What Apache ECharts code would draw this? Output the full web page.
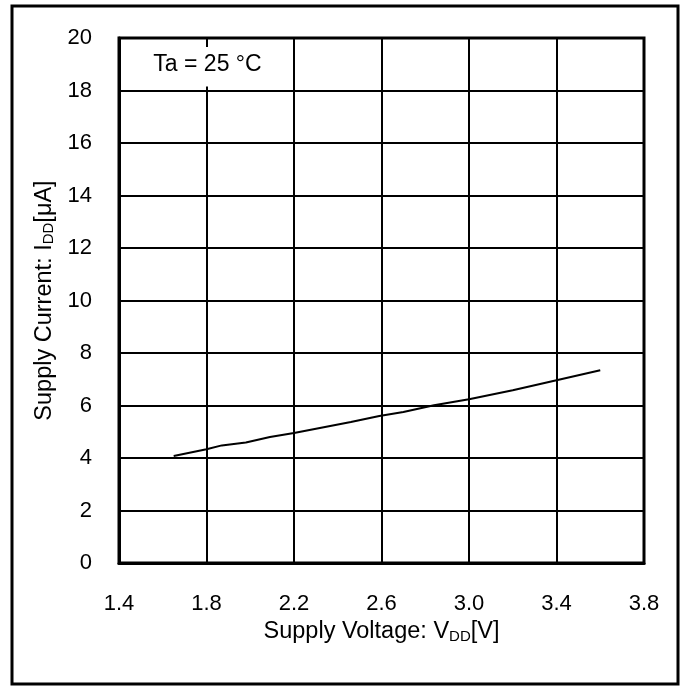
<!DOCTYPE html>
<html>
<head>
<meta charset="utf-8">
<script src="https://cdn.jsdelivr.net/npm/echarts@6/dist/echarts.min.js"></script>
<style>
html,body{margin:0;padding:0;background:#fff;}
#c{width:686px;height:687px;}
</style>
</head>
<body>
<div id="c"></div>
<script>
// Supply voltage (V) and supply current (uA)
const voltage = [1.65, 1.80, 1.87, 1.98, 2.09, 2.20, 2.46, 2.59, 2.70, 2.84, 3.00, 3.20, 3.40, 3.60];
const current = [4.08, 4.33, 4.48, 4.59, 4.80, 4.95, 5.37, 5.60, 5.75, 6.01, 6.24, 6.58, 6.96, 7.34];
const xTicks = [1.4, 1.8, 2.2, 2.6, 3.0, 3.4, 3.8];
const yTicks = [0, 2, 4, 6, 8, 10, 12, 14, 16, 18, 20];
const annotation = 'Ta = 25 °C';

const font = 'Liberation Sans, Arial, sans-serif';
const fs = 22;
const nfs = 23.5;
const chart = echarts.init(document.getElementById('c'));
const pts = voltage.map((v, i) => [v, current[i]]);

chart.setOption({
  animation: false,
  backgroundColor: '#fff',
  grid: {left: 119, right: 42, top: 38, bottom: 124, show: true, borderColor: '#000', borderWidth: 3, backgroundColor: 'transparent'},
  xAxis: {
    type: 'value', min: xTicks[0], max: xTicks[xTicks.length - 1], interval: 0.4,
    axisLine: {show: true, lineStyle: {color: '#000', width: 3}},
    axisTick: {show: false},
    splitLine: {show: true, lineStyle: {color: '#000', width: 2}},
    axisLabel: {color: '#000', fontFamily: font, fontSize: fs, margin: 30, formatter: v => v.toFixed(1)},
    name: 'Supply Voltage: V{sub|DD}[V]', nameLocation: 'middle', nameGap: 56,
    nameTextStyle: {color: '#000', fontFamily: font, fontSize: nfs,
      rich: {sub: {fontSize: 15, fontFamily: font, color: '#000', padding: [10, 0, 0, 0]}}}
  },
  yAxis: {
    type: 'value', min: yTicks[0], max: yTicks[yTicks.length - 1], interval: 2,
    axisLine: {show: true, lineStyle: {color: '#000', width: 3}},
    axisTick: {show: false},
    splitLine: {show: true, lineStyle: {color: '#000', width: 2}},
    axisLabel: {color: '#000', fontFamily: font, fontSize: fs, margin: 27},
    name: 'Supply Current: I{sub|DD}[μA]', nameLocation: 'middle', nameGap: 61,
    nameTextStyle: {color: '#000', fontFamily: font, fontSize: nfs,
      rich: {sub: {fontSize: 15, fontFamily: font, color: '#000', padding: [10, 0, 0, 0]}}}
  },
  series: [{
    type: 'line', data: pts, showSymbol: false, smooth: false,
    lineStyle: {color: '#000', width: 2}, z: 5
  }]
});

// annotation box in the top-left cell (1.4–2.2 V, 18–20 uA)
const p0 = chart.convertToPixel({gridIndex: 0}, [1.4, 20]);
const p1 = chart.convertToPixel({gridIndex: 0}, [2.2, 18]);
chart.setOption({
  graphic: [
    {type: 'rect', shape: {x: 12, y: 6, width: 666, height: 678}, style: {fill: 'none', stroke: '#000', lineWidth: 3}, silent: true},
    {type: 'rect', shape: {x: p0[0] + 2, y: p0[1] + 9, width: p1[0] - p0[0] - 3, height: p1[1] - p0[1] - 13}, style: {fill: '#fff'}, z: 10},
    {type: 'text', x: (p0[0] + p1[0]) / 2 + 1, y: (p0[1] + p1[1]) / 2 + 0, z: 11,
      style: {text: annotation, fill: '#000', font: '23px ' + font, textAlign: 'center', textVerticalAlign: 'middle'}}
  ]
});
</script>
</body>
</html>
